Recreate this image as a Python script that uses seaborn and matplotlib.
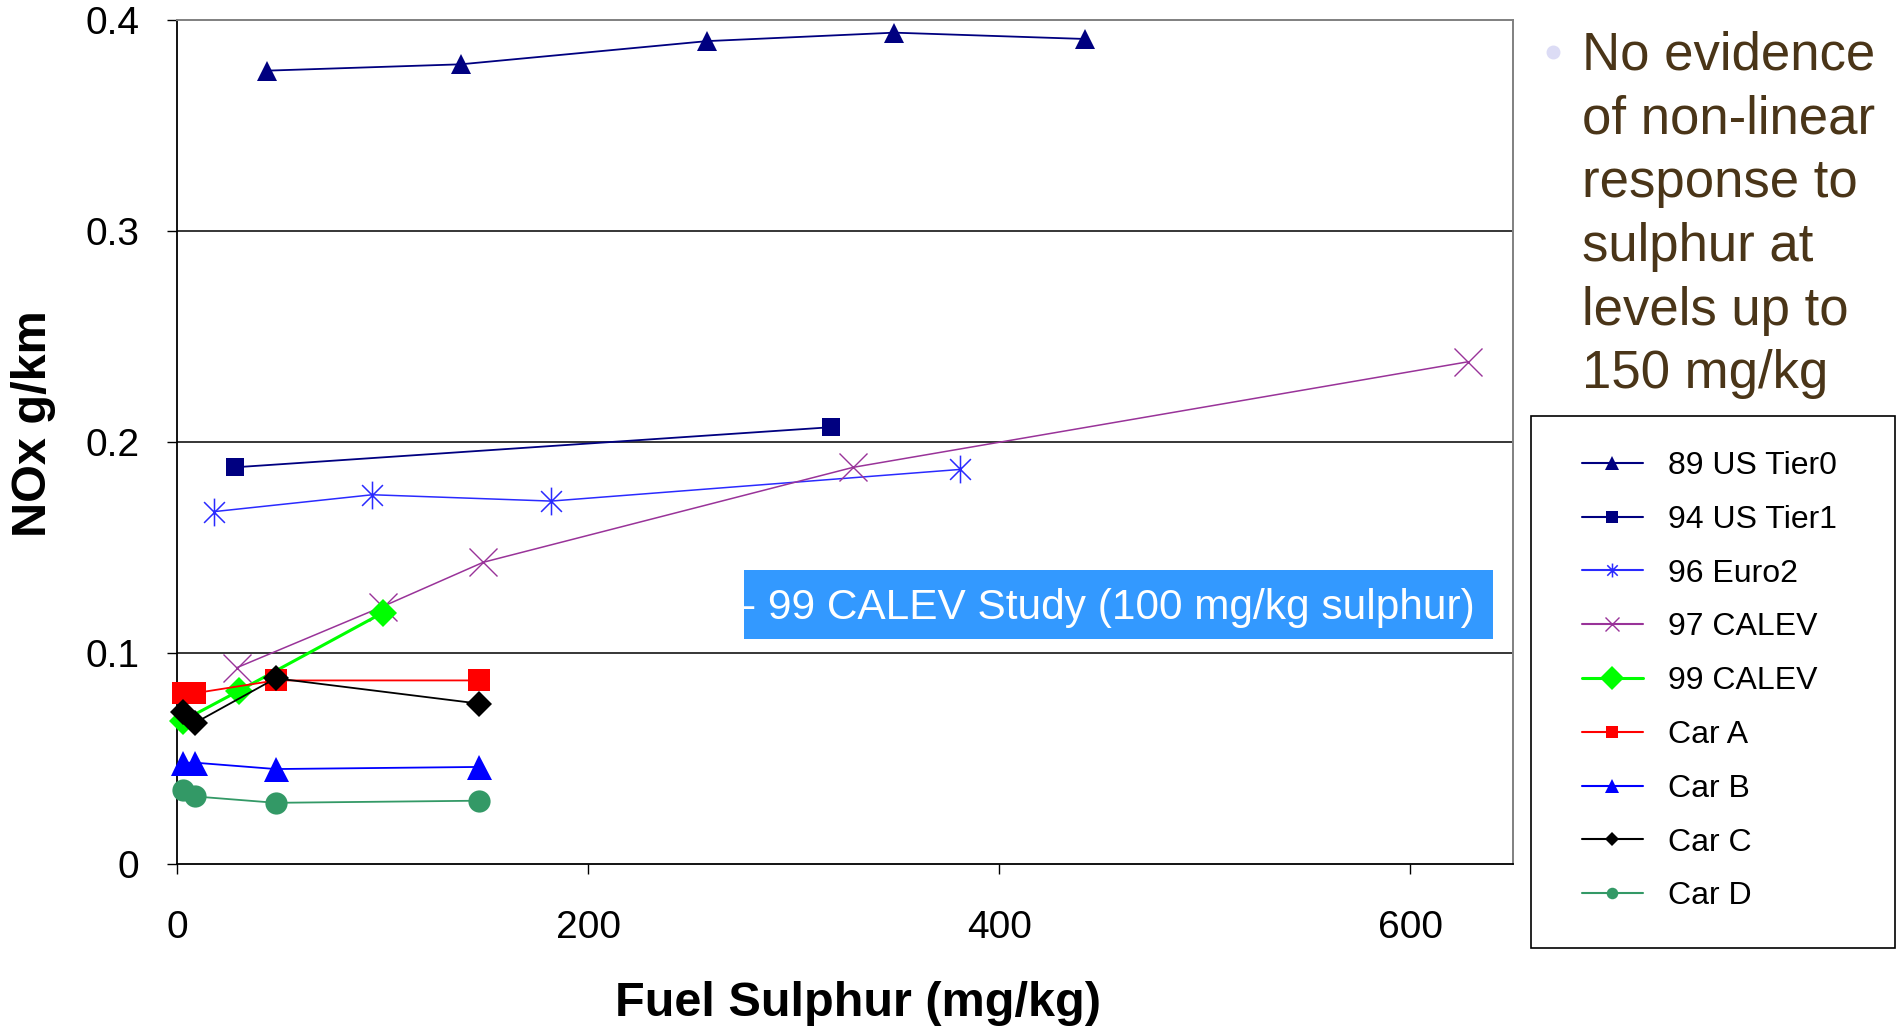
import matplotlib
matplotlib.use("Agg")
import matplotlib.pyplot as plt
from matplotlib.lines import Line2D
from matplotlib.patches import Rectangle
from matplotlib.path import Path
import seaborn as sns
import pandas as pd

# ---- data: fuel sulphur (mg/kg) vs NOx (g/km) ----
tier0_s = [44, 138, 258, 349, 442]
tier0_nox = [0.376, 0.379, 0.390, 0.394, 0.391]
tier1_s = [28, 318]
tier1_nox = [0.188, 0.207]
euro2_s = [18, 95, 182, 381]
euro2_nox = [0.167, 0.175, 0.172, 0.187]
calev97_s = [29, 100, 149, 329, 628]
calev97_nox = [0.093, 0.122, 0.143, 0.188, 0.238]
calev99_s = [3, 30, 100]
calev99_nox = [0.068, 0.082, 0.119]
car_s = [3, 9, 48, 147]
carA_nox = [0.081, 0.081, 0.087, 0.087]
carB_nox = [0.048, 0.048, 0.045, 0.046]
carC_nox = [0.072, 0.067, 0.088, 0.076]
carD_nox = [0.035, 0.032, 0.029, 0.030]

series_names = ["89 US Tier0", "94 US Tier1", "96 Euro2", "97 CALEV", "99 CALEV",
                "Car A", "Car B", "Car C", "Car D"]
x_ticks = [0, 200, 400, 600]
y_ticks = [0, 0.1, 0.2, 0.3, 0.4]
y_tick_labels = ["0", "0.1", "0.2", "0.3", "0.4"]
note_text = "No evidence\nof non-linear\nresponse to\nsulphur at\nlevels up to\n150 mg/kg"
study_label = "- 99 CALEV Study (100 mg/kg sulphur)"

sns.set_theme(style="white")
plt.rcParams["font.family"] = ["Liberation Sans", "DejaVu Sans"]

W, H = 1902, 1026
fig = plt.figure(figsize=(W / 100, H / 100), dpi=100)
fig.patch.set_facecolor("white")

def fx(px):
    return px / W

def fy(py):
    return 1 - py / H

ax_l, ax_r, ax_t, ax_b = 177, 1513, 20, 864
ax = fig.add_axes([fx(ax_l), fy(ax_b), fx(ax_r - ax_l), (ax_b - ax_t) / H])

# asterisk marker: vertical stroke plus a cross
star = Path(
    [(0, -1), (0, 1), (-0.75, -0.75), (0.75, 0.75), (-0.75, 0.75), (0.75, -0.75)],
    [Path.MOVETO, Path.LINETO, Path.MOVETO, Path.LINETO, Path.MOVETO, Path.LINETO],
)

styles = {
    "89 US Tier0": dict(color="#000080", marker="^", ms=15, lw=1.3, mew=0),
    "94 US Tier1": dict(color="#000080", marker="s", ms=13.5, lw=1.3, mew=0),
    "96 Euro2": dict(color="#2a2aff", marker=star, ms=20, lw=1.1, mew=1.1),
    "97 CALEV": dict(color="#993399", marker="x", ms=20, lw=1.1, mew=1.0),
    "99 CALEV": dict(color="#00ff00", marker="D", ms=14.5, lw=2.2, mew=0),
    "Car A": dict(color="#ff0000", marker="s", ms=16, lw=1.3, mew=0),
    "Car B": dict(color="#0000ff", marker="^", ms=18, lw=1.3, mew=0),
    "Car C": dict(color="#000000", marker="D", ms=13.5, lw=1.3, mew=0),
    "Car D": dict(color="#339966", marker="o", ms=16, lw=1.3, mew=0),
}
legend_ms = {
    "89 US Tier0": 10, "94 US Tier1": 8.5, "96 Euro2": 10, "97 CALEV": 10,
    "99 CALEV": 12.7, "Car A": 8.5, "Car B": 10, "Car C": 6.8, "Car D": 8.3,
}

xs = [tier0_s, tier1_s, euro2_s, calev97_s, calev99_s, car_s, car_s, car_s, car_s]
ys = [tier0_nox, tier1_nox, euro2_nox, calev97_nox, calev99_nox,
      carA_nox, carB_nox, carC_nox, carD_nox]

frames = []
for name, sx, sy in zip(series_names, xs, ys):
    frames.append(pd.DataFrame({"sulphur": sx, "nox": sy, "series": name}))
df = pd.concat(frames, ignore_index=True)

# horizontal grid lines behind the data (top edge is the frame)
for yv in y_ticks[1:-1]:
    ax.axhline(yv, color="black", lw=1.1, zorder=0.5)

for i, name in enumerate(series_names):
    st = styles[name]
    sub = df[df["series"] == name]
    sns.lineplot(data=sub, x="sulphur", y="nox", ax=ax, estimator=None, sort=False,
                 legend=False, color=st["color"], linewidth=st["lw"],
                 marker=st["marker"], markersize=st["ms"],
                 markeredgewidth=st["mew"], markeredgecolor=st["color"],
                 markerfacecolor=st["color"], zorder=2 + i, clip_on=False)

ax.set_xlim(0, 650)
ax.set_ylim(0, 0.4)
ax.set_xticks(x_ticks)
ax.set_xticklabels([str(v) for v in x_ticks])
ax.set_yticks(y_ticks)
ax.set_yticklabels(y_tick_labels)
ax.tick_params(axis="both", direction="out", colors="black", labelsize=28,
               length=7, width=1)
ax.tick_params(axis="y", pad=20, left=True)
ax.tick_params(axis="x", pad=26, bottom=True)
ax.grid(False)
for side in ["left", "bottom"]:
    ax.spines[side].set_color("black")
    ax.spines[side].set_linewidth(1.3)
for side in ["top", "right"]:
    ax.spines[side].set_color("#808080")
    ax.spines[side].set_linewidth(1.4)

ax.set_xlabel("Fuel Sulphur (mg/kg)", fontsize=35, fontweight="bold", color="black")
ax.set_ylabel("NOx g/km", fontsize=35, fontweight="bold", color="black")
ax.xaxis.set_label_coords((858 - ax_l) / (ax_r - ax_l), -(981 - ax_b) / (ax_b - ax_t))
ax.yaxis.set_label_coords(-(ax_l - 56) / (ax_r - ax_l), (ax_b - 424) / (ax_b - ax_t))

# highlighted study label
fig.add_artist(Rectangle((fx(744), fy(639)), fx(1493 - 744), (639 - 570) / H,
                         transform=fig.transFigure, facecolor="#3399ff",
                         edgecolor="none", zorder=5))
fig.text(fx(742), fy(608), study_label, color="white", fontsize=30.5,
         ha="left", va="center", zorder=6)

# bullet note on the right
fig.add_artist(Line2D([fx(1553)], [fy(52)], marker="o", markersize=9,
                      color="#dcdcf5", transform=fig.transFigure, lw=0))
fig.text(fx(1582), fy(31), note_text, color="#4a3518", fontsize=38,
         ha="left", va="top", linespacing=1.35)

# legend with frame
fig.add_artist(Rectangle((fx(1531), fy(948)), fx(1895 - 1531), (948 - 416) / H,
                         transform=fig.transFigure, facecolor="white",
                         edgecolor="black", lw=1.2, zorder=3))
handles = []
for name in series_names:
    st = styles[name]
    handles.append(Line2D([], [], color=st["color"], lw=1.5 if name != "99 CALEV" else 2.2,
                          marker=st["marker"], markersize=legend_ms[name],
                          markeredgewidth=st["mew"], markeredgecolor=st["color"],
                          markerfacecolor=st["color"]))
leg = fig.legend(handles, series_names, loc="upper left",
                 bbox_to_anchor=(fx(1582), fy(451)), frameon=False,
                 fontsize=23, handlelength=1.9, handletextpad=0.8,
                 labelspacing=0.745, borderaxespad=0, borderpad=0)
leg.set_zorder(4)
for t in leg.get_texts():
    t.set_color("black")

fig.savefig("out.png", dpi=100, facecolor="white")
